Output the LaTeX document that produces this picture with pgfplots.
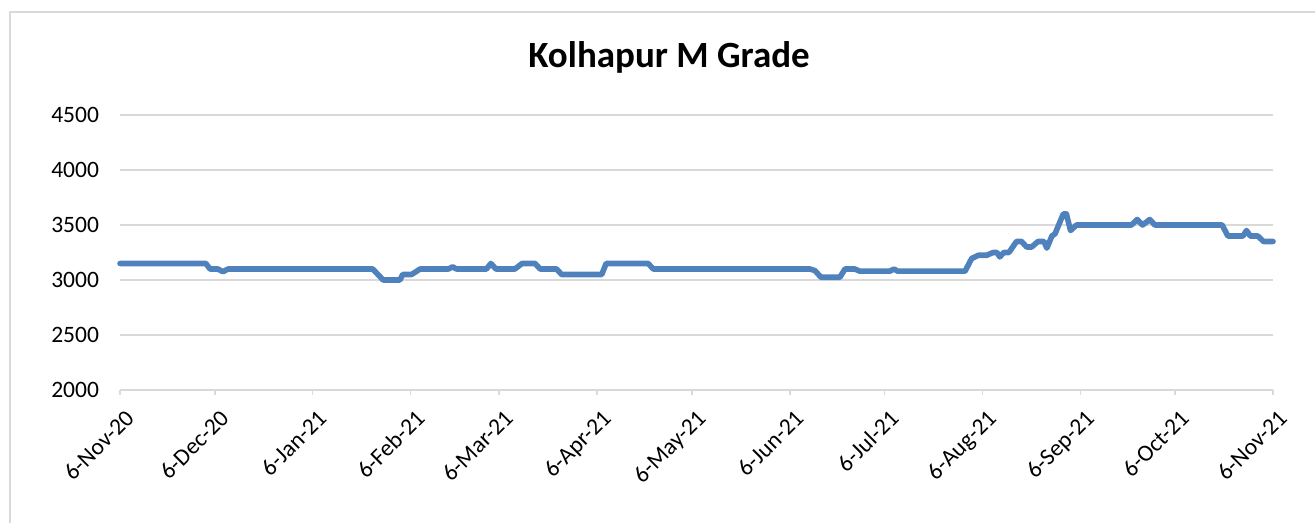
\documentclass[border=0pt]{standalone}
\usepackage{fontspec}
\setmainfont{Carlito}
\usepackage{pgfplots}
\pgfplotsset{compat=1.18}
\definecolor{linec}{HTML}{4F81BD}
\definecolor{gridc}{HTML}{D9D9D9}
\begin{document}
\begin{tikzpicture}
\path[use as bounding box] (0,0) rectangle (657.5pt,261.5pt);
\draw[gridc, line width=1pt] (5pt,-5pt) -- (5pt,255.5pt) -- (665pt,255.5pt);
\node[font=\fontsize{18.5}{22}\selectfont\bfseries] at (334.5pt,233pt) {Kolhapur M Grade};
\begin{axis}[
  at={(60pt,66.5pt)}, anchor=south west,
  scale only axis, width=576.5pt, height=137.5pt,
  xmin=0, xmax=365, ymin=2000, ymax=4500,
  clip=false,
  axis x line*=bottom, axis y line*=left,
  x axis line style={draw=gridc, line width=1pt},
  y axis line style={draw=none},
  ytick={2000,2500,...,4500},
  ytick style={draw=none},
  xtick={0,30,61,92,120,151,181,212,242,273,304,334,365},
  xticklabels={6-Nov-20,6-Dec-20,6-Jan-21,6-Feb-21,6-Mar-21,6-Apr-21,6-May-21,6-Jun-21,6-Jul-21,6-Aug-21,6-Sep-21,6-Oct-21,6-Nov-21},
  xtick align=outside, major tick length=2.5pt,
  xtick style={draw=gridc, line width=0.8pt},
  ymajorgrids, grid style={gridc, line width=0.9pt},
  /pgf/number format/assume math mode=true,
  yticklabel style={font=\fontsize{11.75}{14}\selectfont, xshift=-7pt},
  xticklabel style={font=\fontsize{11.75}{14}\selectfont, xshift=2pt, yshift=-5pt, rotate=45, anchor=north east, inner sep=1pt},
  scaled y ticks=false,
  yticklabel={\pgfmathprintnumber[fixed,1000 sep={}]{\tick}},
]
\addplot[linec, line width=2.8pt, line join=round, line cap=round] coordinates {
(0,3150) (27.2,3150) (28.5,3100) (31.0,3100) (32.6,3075) (34.2,3100)
(80.0,3100) (83.3,3000) (88.6,3000) (89.5,3050) (92.3,3050) (95,3100)
(104,3100) (105.3,3120) (106.5,3100) (116,3100) (117.4,3150) (119,3100)
(125,3100) (127.3,3150) (131.4,3150) (133,3100) (138.2,3100) (139.8,3050)
(152.5,3050) (153.9,3150) (167.2,3150) (168.8,3100)
(218.4,3100) (220,3085) (221.9,3025) (227.9,3025) (229.5,3100) (232.6,3100)
(234.2,3080) (243.7,3080) (245,3100) (246.2,3080) (267.5,3080)
(269.6,3195) (271.7,3225) (274.4,3225) (276.4,3250) (277.6,3250) (278.5,3210)
(279.8,3250) (281.4,3250) (283.8,3350) (285.4,3350) (287,3300) (288.6,3300)
(290.6,3350) (292.5,3350) (293.4,3290) (295,3400) (296,3420) (298.6,3600)
(299.6,3600) (300.9,3450) (302.8,3500) (320.2,3500) (322,3550) (323.7,3500)
(326,3550) (327.6,3500) (348.9,3500) (350.7,3400) (355.5,3400) (356.6,3450)
(357.8,3400) (360.2,3400) (362,3350) (365,3350)
};
\end{axis}
\end{tikzpicture}
\end{document}
